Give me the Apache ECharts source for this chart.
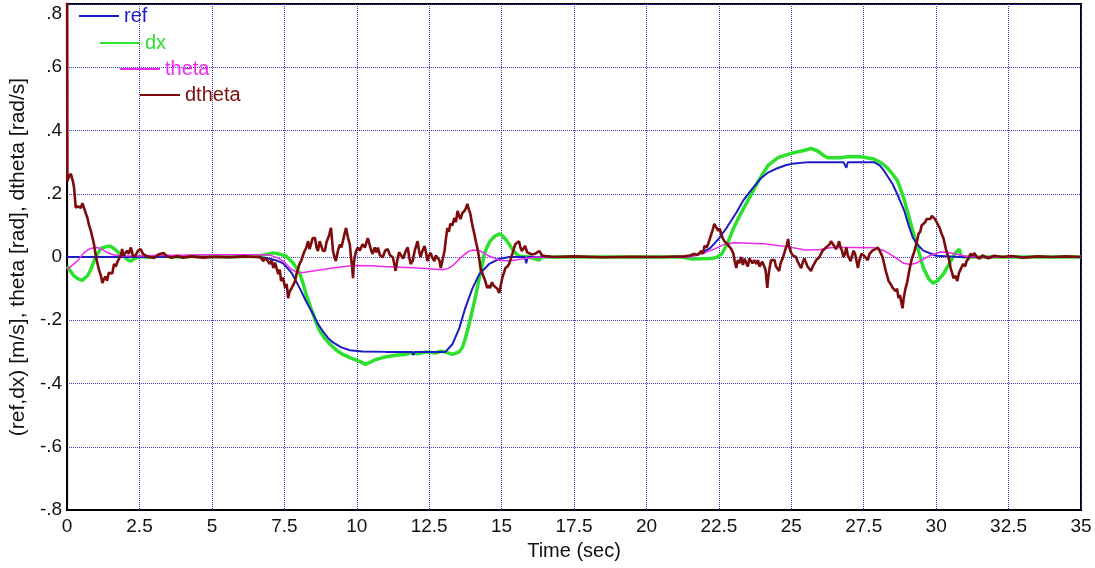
<!DOCTYPE html>
<html>
<head>
<meta charset="utf-8">
<script src="https://cdn.jsdelivr.net/npm/echarts@6/dist/echarts.min.js"></script>
<style>
  html, body { margin: 0; padding: 0; background: #fff; }
  #chart { width: 1095px; height: 568px; }
</style>
</head>
<body>
<div id="chart"></div>
<script>
// Cart-pole response: reference velocity, measured velocity, pole angle and angular rate.
const seriesNames = ['ref', 'dx', 'theta', 'dtheta'];
const seriesColors = ['#1c1cc4', '#2de02d', '#ee28ee', '#7d0b0b'];

// Y tick labels, keyed by tick value
const yTickValues = [-0.8, -0.6, -0.4, -0.2, 0, 0.2, 0.4, 0.6, 0.8];
const yTickLabels = ['-.8', '-.6', '-.4', '-.2', '0', '.2', '.4', '.6', '.8'];

// [time (s), value]
const refData = [
  [0,0],[6.5,0],[6.9,-0.004],[7.2,-0.01],[7.46,-0.02],[7.75,-0.05],[8.04,-0.10],[8.25,-0.14],
  [8.49,-0.18],[8.65,-0.21],[8.83,-0.235],[9.0,-0.255],[9.18,-0.27],[9.45,-0.285],[9.76,-0.295],
  [10.2,-0.299],[11,-0.30],[11.9,-0.30],[11.95,-0.31],[12.0,-0.30],[12.8,-0.30],[13.06,-0.30],
  [13.3,-0.276],[13.54,-0.225],[13.75,-0.16],[13.99,-0.10],[14.23,-0.054],[14.57,-0.022],
  [14.92,-0.006],[15.26,0],[15.8,0],[15.85,-0.02],[15.9,0],[21.3,0],[21.6,0.004],[21.9,0.012],
  [22.2,0.028],[22.5,0.058],[22.75,0.09],[23.1,0.14],[23.35,0.18],[23.6,0.21],[23.96,0.25],
  [24.2,0.267],[24.5,0.28],[24.8,0.29],[25.1,0.296],[25.6,0.30],[26.8,0.30],[26.9,0.282],
  [26.95,0.30],[27.85,0.30],[28.05,0.29],[28.2,0.273],[28.5,0.23],[28.7,0.19],[28.9,0.146],
  [29.05,0.10],[29.2,0.06],[29.4,0.035],[29.56,0.02],[30.0,0.004],[30.8,0],[35,0]
];

const dxData = [
  [0,-0.03],[0.12,-0.045],[0.24,-0.06],[0.4,-0.07],[0.52,-0.074],[0.7,-0.06],[0.82,-0.04],
  [0.93,-0.013],[1.05,0.01],[1.17,0.027],[1.35,0.033],[1.5,0.034],[1.6,0.028],[1.72,0.019],
  [1.84,0.008],[1.96,0.003],[2.08,-0.008],[2.2,-0.013],[2.35,-0.004],[2.54,0.002],[2.8,-0.002],
  [3.2,0.003],[3.8,0],[4.5,0.002],[5.5,0],[6.5,0.002],[6.8,0.006],[7.1,0.013],[7.3,0.01],
  [7.56,0.003],[7.8,-0.019],[7.92,-0.035],[8.04,-0.054],[8.15,-0.085],[8.25,-0.118],[8.37,-0.15],
  [8.49,-0.18],[8.61,-0.21],[8.73,-0.235],[8.9,-0.258],[9.08,-0.276],[9.3,-0.295],[9.52,-0.308],
  [9.8,-0.32],[10.1,-0.33],[10.3,-0.34],[10.45,-0.333],[10.66,-0.324],[10.9,-0.318],
  [11.14,-0.314],[11.4,-0.31],[11.69,-0.308],[11.9,-0.302],[12.1,-0.306],[12.4,-0.3],
  [12.7,-0.304],[12.9,-0.298],[13.06,-0.3],[13.3,-0.308],[13.54,-0.3],[13.65,-0.285],
  [13.75,-0.257],[13.87,-0.215],[13.99,-0.17],[14.11,-0.12],[14.23,-0.067],[14.32,-0.03],
  [14.4,0.01],[14.5,0.032],[14.6,0.05],[14.75,0.065],[14.92,0.073],[15.02,0.068],[15.13,0.057],
  [15.25,0.042],[15.37,0.025],[15.48,0.012],[15.6,0.003],[15.95,0],[16.3,-0.01],[16.35,0],
  [21.2,0],[21.55,-0.006],[22.24,-0.005],[22.45,0.0],[22.6,0.01],[22.72,0.03],[22.83,0.05],
  [23.0,0.09],[23.3,0.145],[23.55,0.187],[23.86,0.24],[24.2,0.29],[24.54,0.314],[24.8,0.322],
  [25.1,0.33],[25.4,0.336],[25.68,0.343],[25.9,0.336],[26.1,0.322],[26.26,0.314],[26.7,0.314],
  [27.0,0.318],[27.4,0.317],[27.85,0.31],[28.1,0.298],[28.3,0.283],[28.5,0.262],[28.67,0.24],
  [28.88,0.187],[29.1,0.114],[29.36,0.03],[29.56,-0.035],[29.75,-0.07],[29.9,-0.083],
  [30.05,-0.075],[30.25,-0.054],[30.5,-0.013],[30.65,0.012],[30.73,0.019],[30.8,0.025],
  [30.85,0.005],[30.94,0],[35,0]
];

const thetaData = [
  [0,-0.04],[0.35,-0.013],[0.6,0.015],[0.8,0.027],[1.03,0.03],[1.2,0.025],[1.38,0.014],
  [1.6,0.007],[1.86,0.004],[2.5,0.003],[3,0.005],[5,0.007],[6.5,0.007],[7.0,0.006],
  [7.25,-0.002],[7.46,-0.013],[7.73,-0.038],[7.98,-0.05],[8.2,-0.048],[8.49,-0.044],
  [9.18,-0.035],[9.87,-0.027],[10.5,-0.028],[10.9,-0.03],[11.93,-0.034],[12.5,-0.037],
  [12.96,-0.04],[13.15,-0.036],[13.3,-0.028],[13.5,-0.01],[13.65,0.003],[13.85,0.017],
  [14.0,0.022],[14.23,0.02],[14.4,0.012],[14.57,0.003],[14.92,-0.01],[15.26,-0.013],
  [15.7,-0.006],[16.2,0],[21.5,0],[21.9,0.01],[22.34,0.025],[22.69,0.04],[23.03,0.045],
  [24.06,0.042],[24.89,0.032],[25.5,0.022],[26.0,0.024],[26.4,0.03],[27.0,0.03],[27.85,0.029],
  [28.2,0.02],[28.53,0.002],[28.88,-0.02],[29.1,-0.024],[29.3,-0.02],[29.5,-0.01],
  [29.75,0.003],[30.15,0.016],[30.4,0.015],[30.7,0.009],[31.1,0.001],[31.5,0],[35,0]
];

const dthetaData = [
  [0,0.95],[0.01,0.24],[0.07,0.255],[0.13,0.263],[0.2,0.24],[0.24,0.22],[0.3,0.156],[0.38,0.16],
  [0.47,0.155],[0.53,0.17],[0.58,0.168],[0.64,0.14],[0.7,0.124],[0.76,0.1],[0.82,0.083],
  [0.88,0.06],[0.93,0.04],[0.98,0.01],[1.03,-0.013],[1.1,-0.04],[1.17,-0.06],[1.22,-0.082],
  [1.27,-0.07],[1.33,-0.062],[1.38,-0.075],[1.44,-0.05],[1.5,-0.044],[1.56,-0.052],
  [1.62,-0.022],[1.68,-0.03],[1.75,-0.013],[1.8,-0.018],[1.86,0.005],[1.9,0.025],[1.95,0.005],
  [2.0,0.0],[2.07,0.02],[2.13,0.01],[2.2,0.03],[2.27,0.005],[2.35,0.003],[2.45,0.02],
  [2.54,0.025],[2.62,0.01],[2.75,0.003],[2.85,0.0],[3.0,-0.003],[3.15,0.008],[3.33,0.013],
  [3.45,0.002],[3.6,-0.002],[3.8,0.003],[4.0,-0.002],[4.3,0.002],[4.7,-0.002],[5.1,0.001],
  [5.6,-0.001],[6.1,0.002],[6.5,0.0],[6.67,0.0],[6.77,-0.013],[6.85,-0.003],[7.0,-0.022],
  [7.06,-0.01],[7.12,-0.035],[7.18,-0.018],[7.29,-0.054],[7.34,-0.04],[7.39,-0.076],
  [7.45,-0.065],[7.53,-0.098],[7.58,-0.085],[7.63,-0.13],[7.68,-0.11],[7.73,-0.108],
  [7.8,-0.09],[7.87,-0.076],[7.93,-0.05],[7.98,-0.035],[8.03,-0.02],[8.08,-0.013],[8.14,0.005],
  [8.2,0.019],[8.26,0.03],[8.32,0.05],[8.37,0.025],[8.42,0.03],[8.48,0.06],[8.56,0.06],
  [8.61,0.03],[8.66,0.019],[8.72,0.05],[8.77,0.044],[8.83,0.02],[8.9,0.019],[8.95,0.045],
  [9.0,0.05],[9.05,0.07],[9.11,0.092],[9.15,0.05],[9.18,0.019],[9.23,0.0],[9.28,-0.013],
  [9.35,0.02],[9.42,0.04],[9.47,0.03],[9.52,0.05],[9.57,0.07],[9.63,0.092],[9.7,0.06],
  [9.76,0.04],[9.8,0.0],[9.84,-0.03],[9.87,-0.067],[9.9,-0.02],[9.93,0.0],[9.98,0.02],
  [10.04,0.03],[10.1,0.02],[10.2,0.04],[10.28,0.03],[10.38,0.06],[10.44,0.04],[10.5,0.02],
  [10.55,0.01],[10.62,0.03],[10.68,0.015],[10.73,0.03],[10.8,0.005],[10.9,0.0],[10.98,0.02],
  [11.07,0.025],[11.15,0.005],[11.24,0.0],[11.29,-0.02],[11.34,-0.044],[11.4,-0.01],
  [11.46,0.015],[11.52,0.01],[11.6,-0.005],[11.69,0.019],[11.76,0.03],[11.81,0.0],
  [11.86,-0.022],[11.93,-0.013],[12.0,0.02],[12.1,0.05],[12.15,0.02],[12.2,0.0],[12.27,0.02],
  [12.34,0.035],[12.4,0.01],[12.44,-0.013],[12.5,0.005],[12.55,0.013],[12.62,-0.005],
  [12.68,-0.013],[12.73,0.005],[12.79,0.01],[12.85,-0.01],[12.9,-0.035],[12.96,-0.01],
  [13.03,0.02],[13.08,0.06],[13.13,0.092],[13.18,0.08],[13.23,0.105],[13.3,0.1],[13.37,0.124],
  [13.42,0.11],[13.48,0.146],[13.53,0.13],[13.58,0.12],[13.65,0.14],[13.72,0.146],
  [13.77,0.155],[13.82,0.168],[13.87,0.15],[13.92,0.137],[13.99,0.1],[14.06,0.073],
  [14.11,0.05],[14.16,0.03],[14.22,0.0],[14.27,-0.035],[14.33,-0.05],[14.4,-0.067],
  [14.45,-0.08],[14.5,-0.098],[14.55,-0.09],[14.6,-0.098],[14.67,-0.08],[14.72,-0.09],
  [14.78,-0.086],[14.85,-0.1],[14.92,-0.114],[14.97,-0.09],[15.02,-0.067],[15.08,-0.05],
  [15.13,-0.035],[15.2,-0.03],[15.26,-0.022],[15.32,-0.005],[15.37,0.01],[15.42,0.025],
  [15.47,0.04],[15.53,0.035],[15.6,0.05],[15.65,0.03],[15.7,0.019],[15.76,0.028],
  [15.81,0.035],[15.88,0.015],[15.95,0.012],[16.05,0.008],[16.15,0.01],[16.3,0.019],
  [16.4,0.005],[16.5,0.003],[16.8,0.0],[17.5,0.002],[18.5,-0.001],[19.5,0.001],[20.5,0.0],
  [21.3,0.002],[21.5,0.005],[21.66,0.01],[21.75,0.006],[21.9,0.019],[21.96,0.01],[22.0,0.035],
  [22.08,0.03],[22.14,0.044],[22.2,0.05],[22.24,0.073],[22.3,0.09],[22.34,0.105],[22.4,0.095],
  [22.48,0.083],[22.53,0.09],[22.58,0.073],[22.63,0.06],[22.69,0.05],[22.75,0.055],[22.8,0.04],
  [22.86,0.04],[22.93,0.025],[23.0,0.01],[23.05,-0.015],[23.1,-0.035],[23.15,-0.01],
  [23.2,-0.02],[23.27,0.0],[23.33,-0.025],[23.39,-0.005],[23.44,-0.018],[23.5,-0.03],
  [23.55,-0.005],[23.6,0.0],[23.66,-0.02],[23.72,-0.01],[23.79,-0.022],[23.85,-0.01],
  [23.9,-0.03],[23.96,-0.035],[24.0,-0.015],[24.06,-0.01],[24.11,-0.04],[24.17,-0.098],
  [24.21,-0.06],[24.25,-0.035],[24.3,-0.01],[24.36,-0.015],[24.42,-0.01],[24.47,-0.03],
  [24.52,-0.025],[24.58,-0.044],[24.63,-0.02],[24.7,-0.005],[24.75,0.0],[24.8,0.025],
  [24.85,0.04],[24.89,0.057],[24.93,0.03],[24.99,0.015],[25.05,0.005],[25.1,0.01],[25.16,0.0],
  [25.22,-0.015],[25.28,-0.025],[25.34,-0.035],[25.4,-0.015],[25.45,-0.005],[25.5,-0.01],
  [25.56,-0.03],[25.62,-0.025],[25.68,-0.044],[25.74,-0.03],[25.8,-0.02],[25.86,-0.01],
  [25.92,-0.015],[25.97,0.0],[26.02,0.005],[26.08,0.02],[26.14,0.015],[26.2,0.03],[26.26,0.03],
  [26.32,0.04],[26.37,0.05],[26.43,0.05],[26.48,0.035],[26.54,0.025],[26.6,0.035],[26.65,0.05],
  [26.7,0.03],[26.75,0.02],[26.8,0.0],[26.85,0.01],[26.9,0.03],[26.95,0.005],[27.05,-0.013],
  [27.1,0.005],[27.15,0.02],[27.2,0.01],[27.3,-0.035],[27.35,-0.01],[27.42,0.01],[27.5,0.005],
  [27.55,0.01],[27.64,-0.01],[27.7,0.01],[27.8,0.02],[27.9,0.025],[27.98,0.03],[28.05,0.02],
  [28.1,0.01],[28.15,0.0],[28.2,-0.02],[28.26,-0.044],[28.31,-0.06],[28.36,-0.076],
  [28.42,-0.07],[28.46,-0.09],[28.5,-0.098],[28.55,-0.095],[28.6,-0.108],[28.65,-0.1],
  [28.7,-0.13],[28.75,-0.12],[28.79,-0.14],[28.84,-0.162],[28.88,-0.13],[28.94,-0.1],
  [29.0,-0.08],[29.05,-0.054],[29.1,-0.03],[29.15,-0.01],[29.18,0.0],[29.24,0.015],
  [29.29,0.019],[29.34,0.05],[29.39,0.073],[29.45,0.08],[29.5,0.1],[29.56,0.105],[29.62,0.11],
  [29.67,0.12],[29.73,0.124],[29.8,0.12],[29.85,0.13],[29.9,0.13],[29.96,0.12],[30.02,0.11],
  [30.08,0.108],[30.13,0.09],[30.18,0.075],[30.25,0.06],[30.3,0.04],[30.35,0.02],[30.39,0.02],
  [30.45,-0.01],[30.5,-0.035],[30.55,-0.05],[30.6,-0.067],[30.67,-0.06],[30.73,-0.076],
  [30.79,-0.05],[30.84,-0.04],[30.89,-0.03],[30.94,-0.022],[31.0,-0.03],[31.05,-0.013],
  [31.12,-0.005],[31.18,0.01],[31.25,0.005],[31.32,0.012],[31.4,0.0],[31.5,-0.005],[31.6,0.005],
  [31.7,0.0],[31.8,-0.004],[32.0,0.004],[32.3,0.0],[32.6,0.003],[33,-0.002],[33.5,0.002],
  [34,0],[34.5,0.002],[35,0]
];

const seriesData = [refData, dxData, thetaData, dthetaData];
const lineWidths = [2, 3.5, 1.5, 2.6];

// Staggered legend entries, one component per series
const legendPositions = [[79, 6], [100, 33], [120, 59], [140, 85]];

const chart = echarts.init(document.getElementById('chart'), null, { renderer: 'canvas' });

const gridLine = { show: true, lineStyle: { color: '#3434c4', type: 'dotted', width: 1 } };
const fontFamily = 'Liberation Sans, Arial, sans-serif';

const option = {
  animation: false,
  backgroundColor: '#ffffff',
  textStyle: { fontFamily },
  grid: {
    left: 63, right: 14, top: 4, bottom: 58,
    show: true, borderColor: '#000', borderWidth: 2, backgroundColor: 'transparent'
  },
  legend: seriesNames.map((name, i) => ({
    left: legendPositions[i][0],
    top: legendPositions[i][1],
    padding: 0,
    orient: 'horizontal',
    icon: 'rect',
    itemWidth: 40,
    itemHeight: 2,
    selectedMode: false,
    data: [{ name, textStyle: { color: seriesColors[i] } }],
    textStyle: { fontSize: 20, fontFamily }
  })),
  xAxis: {
    type: 'value',
    min: 0, max: 35, interval: 2.5,
    name: 'Time (sec)',
    nameLocation: 'middle',
    nameGap: 31,
    nameTextStyle: { fontSize: 20, color: '#111', fontFamily },
    axisLine: { show: true, onZero: false, lineStyle: { color: '#000', width: 2 } },
    axisTick: { show: false },
    axisLabel: { fontSize: 19, color: '#111', margin: 7, fontFamily },
    splitLine: gridLine
  },
  yAxis: {
    type: 'value',
    min: -0.8, max: 0.8, interval: 0.2,
    name: '(ref,dx) [m/s], theta [rad], dtheta [rad/s]',
    nameLocation: 'middle',
    nameGap: 35,
    nameTextStyle: { fontSize: 21, color: '#111', fontFamily },
    axisLine: { show: true, lineStyle: { color: '#000', width: 2 } },
    axisTick: { show: false },
    axisLabel: {
      fontSize: 19, color: '#111', margin: 5, fontFamily,
      verticalAlignMaxLabel: 'top',
      formatter: (v) => {
        const idx = yTickValues.findIndex(t => Math.abs(t - v) < 1e-6);
        return idx >= 0 ? yTickLabels[idx] : '';
      }
    },
    splitLine: gridLine
  },
  series: seriesNames.map((name, i) => ({
    name,
    type: 'line',
    data: seriesData[i],
    showSymbol: false,
    symbol: 'none',
    clip: true,
    z: [3, 2, 4, 5][i],
    lineStyle: { color: seriesColors[i], width: lineWidths[i] },
    itemStyle: { color: seriesColors[i] }
  }))
};

chart.setOption(option);
</script>
</body>
</html>
